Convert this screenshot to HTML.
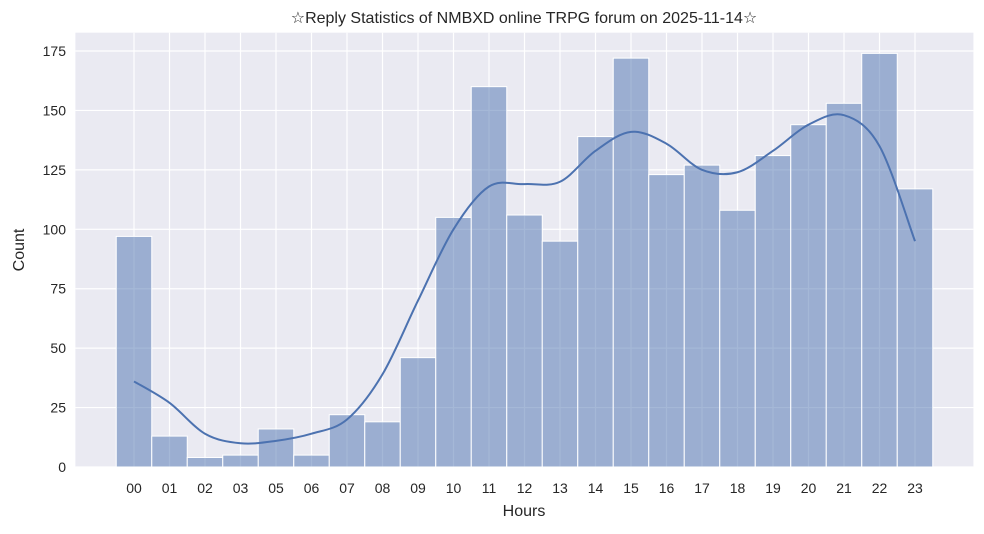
<!DOCTYPE html>
<html><head><meta charset="utf-8"><style>
body{margin:0;background:#fff;}
svg{font-family:"Liberation Sans","DejaVu Sans","Noto Sans CJK SC",sans-serif;}
</style></head><body>
<svg id="chart" width="984" height="529" xmlns="http://www.w3.org/2000/svg">
<rect x="0" y="0" width="984" height="529" fill="#fff"/>
<rect x="75.4" y="32.7" width="898" height="434.3" fill="#eaeaf2"/>
<g id="grid"></g><g id="bars"></g><g id="kde"></g><g id="ticks"></g>
<text x="524" y="23" text-anchor="middle" font-size="16" fill="#262626">☆Reply Statistics of NMBXD online TRPG forum on 2025-11-14☆</text>
<text x="524" y="516" text-anchor="middle" font-size="16" fill="#262626">Hours</text>
<text transform="translate(24,250) rotate(-90)" text-anchor="middle" font-size="16" fill="#262626">Count</text>
</svg>
<script>
const categories=["00","01","02","03","05","06","07","08","09","10","11","12","13","14","15","16","17","18","19","20","21","22","23"];
const counts=[97,13,4,5,16,5,22,19,46,105,160,106,95,139,172,123,127,108,131,144,153,174,117];
const kdeValues=[36,27,14,10,11,14,20,39,70,100,118,119,120,133,141,136,125,124,133,144,148,135,95];
const yTicks=[0,25,50,75,100,125,150,175];
const NS="http://www.w3.org/2000/svg";
const x0=134,step=35.5,yBase=467,yTop=32.7,yMax=182.7;
const xs=i=>x0+i*step;
const ys=v=>yBase-(v/yMax)*(yBase-yTop);
function mk(t,a,p){const e=document.createElementNS(NS,t);for(const k in a)e.setAttribute(k,a[k]);p.appendChild(e);return e;}
const grid=document.getElementById('grid'),bars=document.getElementById('bars'),kde=document.getElementById('kde'),ticks=document.getElementById('ticks');
yTicks.forEach(v=>{
  const l=mk('line',{x1:75.4,x2:973.4,y1:ys(v),y2:ys(v),stroke:'#fff','stroke-width':1.2},grid);
  
  
  const t=mk('text',{x:66,y:ys(v)+5,'text-anchor':'end','font-size':14,fill:'#262626'},ticks);
  t.textContent=v;
  
  
});
categories.forEach((c,i)=>{
  const l=mk('line',{x1:xs(i),x2:xs(i),y1:yTop,y2:yBase,stroke:'#fff','stroke-width':1.2},grid);
  
  
  const t=mk('text',{x:xs(i),y:493,'text-anchor':'middle','font-size':14,fill:'#262626'},ticks);
  t.textContent=c;
  
  
  const b=mk('rect',{x:xs(i)-step/2,y:ys(counts[i]),width:step,height:yBase-ys(counts[i]),fill:'#4c72b0','fill-opacity':0.5,stroke:'#fff','stroke-width':1},bars);
  
  
});
const pts=kdeValues.map((v,i)=>[xs(i),ys(v)]);
let d='M'+pts[0][0]+','+pts[0][1];
for(let i=0;i<pts.length-1;i++){
  const p0=pts[Math.max(i-1,0)],p1=pts[i],p2=pts[i+1],p3=pts[Math.min(i+2,pts.length-1)];
  const c1=[p1[0]+(p2[0]-p0[0])/6,p1[1]+(p2[1]-p0[1])/6],c2=[p2[0]-(p3[0]-p1[0])/6,p2[1]-(p3[1]-p1[1])/6];
  d+=' C'+c1+' '+c2+' '+p2;
}
const path=mk('path',{d:d,fill:'none',stroke:'#4c72b0','stroke-width':2},kde);


</script>
</body></html>
